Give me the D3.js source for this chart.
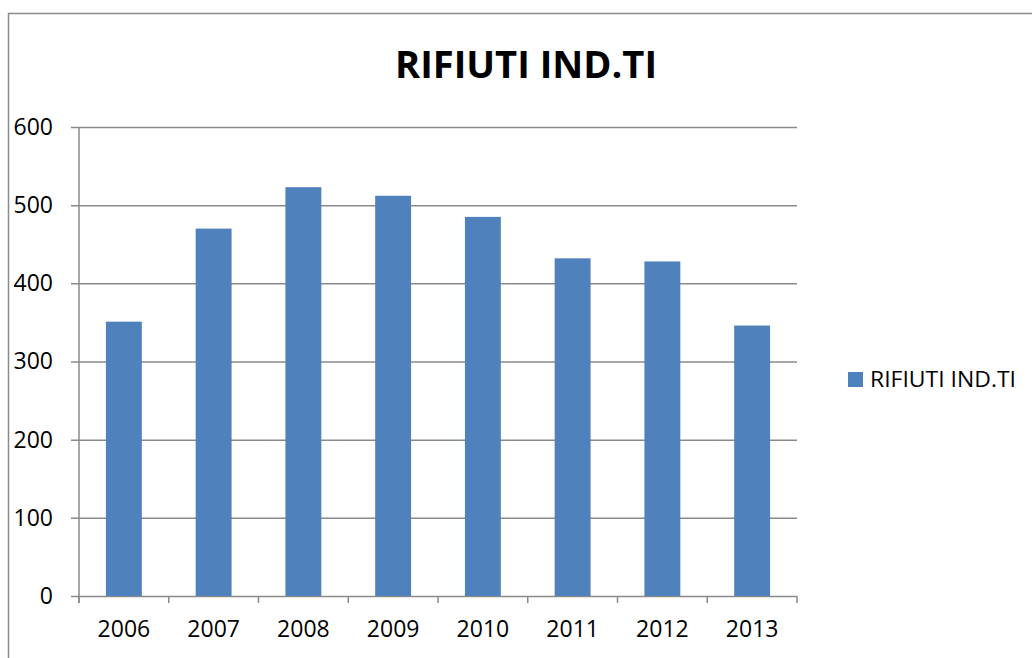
<!DOCTYPE html>
<html>
<head>
<meta charset="utf-8">
<script src="https://cdn.jsdelivr.net/npm/d3@7"></script>
<style>
    body { margin: 0; background: #fff; }
    svg { display: block; }
    text { font-family: 'Open Sans', 'DejaVu Sans', sans-serif; fill: #000; }
</style>
</head>
<body>
<script>
const years = ['2006', '2007', '2008', '2009', '2010', '2011', '2012', '2013'];
const rifiuti = [351, 470, 523, 512, 485, 432, 428, 346];
const y_ticks = [0, 100, 200, 300, 400, 500, 600];
const series_name = 'RIFIUTI IND.TI';
const chart_title = 'RIFIUTI IND.TI';

const width = 1032,
    height = 658;

const plot = {left: 79, right: 797, top: 127, bottom: 596};
const bar_color = '#4f81bd',
    line_color = '#8a8a8a';

const svg = d3.select('body')
    .append('svg')
    .attr('width', width)
    .attr('height', height);

// chart frame (only left and top edges fall inside the picture)
svg.append('path')
    .attr('d', 'M8.5,' + height + ' L8.5,13.5 L' + width + ',13.5')
    .attr('fill', 'none')
    .attr('stroke', line_color)
    .attr('stroke-width', 1.5);

const x = d3.scaleBand()
    .domain(years)
    .range([plot.left, plot.right])
    .padding(0);

const y = d3.scaleLinear()
    .domain([0, 600])
    .range([plot.bottom, plot.top]);

// gridlines + y axis
const y_axis = svg.append('g')
    .attr('transform', 'translate(' + plot.left + ',0)')
    .call(d3.axisLeft(y).tickValues(y_ticks).tickSize(8).tickPadding(18));

y_axis.select('.domain')
    .attr('stroke', line_color)
    .attr('stroke-width', 1.5)
    .attr('d', 'M0,' + plot.top + 'V' + (plot.bottom + 7));
y_axis.selectAll('.tick line')
    .attr('stroke', line_color)
    .attr('stroke-width', 1.5)
    .attr('x1', -8)
    .attr('x2', plot.right - plot.left);
y_axis.selectAll('.tick text')
    .style('font-size', '23px')
    .attr('fill', '#000');

// x axis ticks sit on category boundaries
const x_axis = svg.append('g')
    .attr('transform', 'translate(0,' + plot.bottom + ')')
    .call(d3.axisBottom(x).tickSize(0).tickPadding(25));

x_axis.select('.domain').remove();
x_axis.selectAll('.tick text')
    .style('font-size', '23px')
    .attr('fill', '#000');

const boundaries = years.map(d => x(d)).concat([plot.right]);
svg.append('g')
    .selectAll('line')
    .data(boundaries)
    .enter().append('line')
    .attr('x1', d => d)
    .attr('x2', d => d)
    .attr('y1', plot.bottom)
    .attr('y2', plot.bottom + 7)
    .attr('stroke', line_color)
    .attr('stroke-width', 1.5);

// bars
const bar_w = x.bandwidth() * 0.4;
svg.append('g')
    .selectAll('rect')
    .data(rifiuti)
    .enter().append('rect')
    .attr('x', (d, i) => x(years[i]) + (x.bandwidth() - bar_w) / 2)
    .attr('y', d => y(d))
    .attr('width', bar_w)
    .attr('height', d => y(0) - y(d))
    .attr('fill', bar_color);

// title
svg.append('text')
    .attr('x', 526)
    .attr('y', 78)
    .attr('text-anchor', 'middle')
    .attr('textLength', 262)
    .attr('lengthAdjust', 'spacingAndGlyphs')
    .style('font-size', '38px')
    .style('font-weight', 'bold')
    .text(chart_title);

// legend
const legend = svg.append('g')
    .attr('transform', 'translate(848,372)');
legend.append('rect')
    .attr('width', 15)
    .attr('height', 15)
    .attr('fill', bar_color);
legend.append('text')
    .attr('x', 22)
    .attr('y', 15)
    .attr('textLength', 146)
    .attr('lengthAdjust', 'spacingAndGlyphs')
    .style('font-size', '22px')
    .text(series_name);
</script>
</body>
</html>
